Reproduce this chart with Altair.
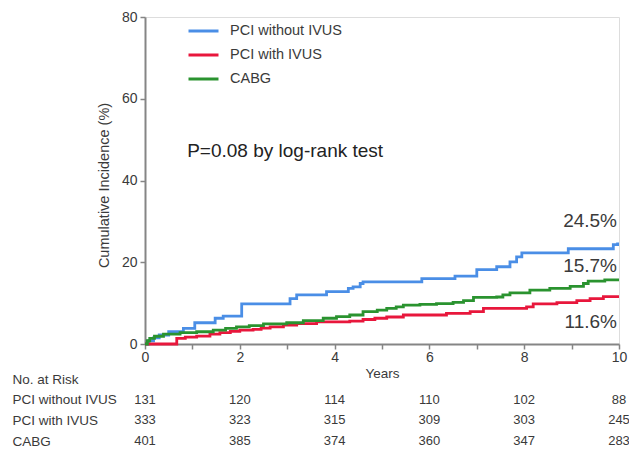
import altair as alt
import pandas as pd

FONT = "Liberation Sans"

groups = ["PCI without IVUS", "PCI with IVUS", "CABG"]
colors = ["#4a8ee6", "#e8173c", "#2a932f"]

# Kaplan-Meier style cumulative incidence
blue_years = [0, 0.08, 0.18, 0.3, 0.5, 0.81, 1.05, 1.48, 1.65, 2.04, 3.06, 3.2, 3.83,
              4.29, 4.39, 4.54, 4.6, 5.84, 6.54, 7.0, 7.42, 7.7, 7.84, 7.95, 8.93,
              9.88, 9.97, 10]
blue_vals = [0, 0.8, 1.5, 2.2, 3.0, 3.8, 5.2, 6.3, 6.8, 9.8, 11.1, 12.0, 12.8,
             13.6, 14.0, 14.8, 15.2, 16.0, 16.6, 18.2, 18.9, 20.1, 21.3, 22.3, 23.3,
             24.3, 24.5, 24.5]

red_years = [0, 0.67, 0.85, 1.09, 1.37, 1.58, 1.8, 2.0, 2.28, 2.45, 2.64, 2.92, 3.2,
             3.62, 4.32, 4.6, 4.85, 5.1, 5.45, 6.36, 6.86, 7.14, 8.05, 8.19, 8.69,
             9.11, 9.39, 9.67, 10]
red_vals = [0, 1.4, 1.7, 1.95, 2.4, 2.8, 3.1, 3.4, 3.6, 3.9, 4.2, 4.6, 5.0,
            5.4, 5.6, 6.0, 6.3, 6.6, 7.1, 7.5, 7.9, 8.7, 9.1, 9.8, 10.1,
            10.6, 11.1, 11.6, 11.6]

green_years = [0, 0.05, 0.1, 0.2, 0.39, 0.74, 1.09, 1.44, 1.7, 1.93, 2.2, 2.5, 2.99,
               3.34, 3.76, 4.04, 4.32, 4.6, 4.9, 5.1, 5.3, 5.45, 5.8, 6.15, 6.5,
               6.72, 6.93, 7.42, 7.55, 7.7, 8.12, 8.54, 8.97, 9.25, 9.35, 9.7, 10]
green_vals = [0, 0.8, 1.4, 1.9, 2.4, 2.8, 3.0, 3.4, 3.8, 4.2, 4.5, 4.9, 5.2,
              5.7, 6.3, 6.7, 7.1, 7.9, 8.3, 8.7, 9.1, 9.5, 9.7, 9.9, 10.2,
              10.6, 11.4, 11.5, 12.0, 12.5, 13.2, 13.6, 14.1, 14.8, 15.4, 15.7, 15.7]

end_labels = ["24.5%", "15.7%", "11.6%"]
end_label_y = [30.2, 19.0, 5.4]

p_text = "P=0.08 by log-rank test"

risk_header = "No. at Risk"
risk_years = [0, 2, 4, 6, 8, 10]
risk_pci_no_ivus = [131, 120, 114, 110, 102, 88]
risk_pci_ivus = [333, 323, 315, 309, 303, 245]
risk_cabg = [401, 385, 374, 360, 347, 283]

# ---- tables built from the lists ----
rows = []
for g, ys, vs in [(groups[0], blue_years, blue_vals),
                  (groups[1], red_years, red_vals),
                  (groups[2], green_years, green_vals)]:
    for yr, v in zip(ys, vs):
        rows.append({"group": g, "year": yr, "value": v})
curves = pd.DataFrame(rows)

risk_rows = []
for g, ns in zip(groups, [risk_pci_no_ivus, risk_pci_ivus, risk_cabg]):
    for yr, n in zip(risk_years, ns):
        risk_rows.append({"row": g, "year": yr, "n": str(n)})
risk_df = pd.DataFrame(risk_rows)

lab_df = pd.DataFrame({"year": [10, 10, 10], "value": end_label_y, "label": end_labels})
p_df = pd.DataFrame({"year": [0.89], "value": [47.3], "label": [p_text]})

x_scale = alt.Scale(domain=[0, 10], nice=False, zero=False)
y_scale = alt.Scale(domain=[0, 80], nice=False)

AX = "#858585"
TXT = "#3a3a3a"

x_axis = alt.Axis(values=list(range(11)),
                  labelExpr="datum.value % 2 == 0 ? datum.label : ''",
                  title="Years", grid=False, labelFlush=False,
                  domainColor=AX, domainWidth=2, tickColor=AX, tickWidth=1.5, tickSize=5,
                  labelColor=TXT, labelFontSize=14, labelPadding=1, labelFont=FONT,
                  titleColor=TXT, titleFontSize=13.5, titleFontWeight="normal",
                  titlePadding=2, titleFont=FONT)
y_axis = alt.Axis(values=[0, 20, 40, 60, 80], title="Cumulative Incidence (%)", grid=False,
                  domainColor=AX, domainWidth=2, tickColor=AX, tickWidth=1.5, tickSize=5,
                  labelColor=TXT, labelFontSize=14, labelPadding=3, labelFont=FONT,
                  titleColor=TXT, titleFontSize=14.5, titleFontWeight="normal",
                  titlePadding=10, titleFont=FONT, titleY=168)

lines = alt.Chart(curves).mark_line(interpolate="step-after", strokeWidth=2.8).encode(
    x=alt.X("year:Q", scale=x_scale, axis=x_axis),
    y=alt.Y("value:Q", scale=y_scale, axis=y_axis),
    color=alt.Color("group:N", scale=alt.Scale(domain=groups, range=colors),
                    legend=alt.Legend(title=None, orient="none", legendX=42, legendY=2,
                                      symbolType="stroke", symbolSize=900,
                                      symbolStrokeWidth=3, labelFontSize=14.5,
                                      labelFont=FONT, labelColor=TXT, labelOffset=10,
                                      clipHeight=24, rowPadding=0, padding=0)),
)

pct = alt.Chart(lab_df).mark_text(align="right", baseline="middle", fontSize=19,
                                  font=FONT, color=TXT, dx=-2).encode(
    x=alt.X("year:Q", scale=x_scale),
    y=alt.Y("value:Q", scale=y_scale),
    text="label:N",
)

ptxt = alt.Chart(p_df).mark_text(align="left", baseline="middle", fontSize=19,
                                 font=FONT, color="#222").encode(
    x=alt.X("year:Q", scale=x_scale),
    y=alt.Y("value:Q", scale=y_scale),
    text="label:N",
)

main = alt.layer(lines, pct, ptxt)

risk = alt.Chart(risk_df).mark_text(align="center", baseline="middle", fontSize=13,
                                    font=FONT, color=TXT).encode(
    x=alt.X("year:Q", scale=x_scale),
    y=alt.Y("row:N", scale=alt.Scale(domain=[risk_header] + groups, range=[362, 424], padding=0),
            axis=alt.Axis(orient="left", domain=False, ticks=False, tickSize=0,
                          labelAlign="left", labelPadding=133, labelFontSize=13.5,
                          labelFont=FONT, labelColor=TXT, title=None, labelBaseline="middle")),
    text="n:N",
)

chart = alt.layer(main, risk).resolve_scale(y="independent").properties(
    width=474, height=327,
    autosize=alt.AutoSizeParams(type="none"),
    padding={"left": 137, "top": 9, "right": 10, "bottom": 104},
).configure_view(stroke=None).configure(font=FONT)

chart.save("out.html", embed_options={"renderer": "svg", "actions": False})
